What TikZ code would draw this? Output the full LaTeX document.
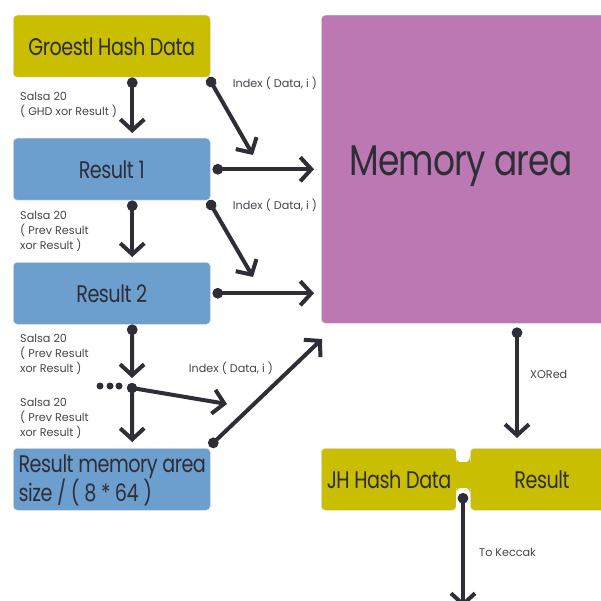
\documentclass[tikz,border=0pt]{standalone}
\usepackage{fontspec}
\setmainfont{Poppins}[FakeStretch=0.8, LetterSpace=-2]
\newfontfamily\lblfont{Poppins}
\usetikzlibrary{arrows.meta,calc}
\definecolor{ylw}{RGB}{201,190,0}
\definecolor{blu}{RGB}{108,158,206}
\definecolor{pur}{RGB}{188,120,178}
\definecolor{ink}{RGB}{46,46,56}
\definecolor{lbl}{RGB}{70,70,78}
\begin{document}
\begin{tikzpicture}[x=1pt,y=-1pt,
  box/.style={rounded corners=4pt, draw=black!12, line width=0.5pt,
    inner sep=0pt, anchor=north west, text=ink},
  stdbox/.style={box, minimum width=197pt, minimum height=62pt},
  bigtxt/.style={font=\fontsize{24}{26}\selectfont},
  small/.style={font=\lblfont\fontsize{11.2}{15}\selectfont, text=lbl, inner sep=0pt, align=left},
  flow/.style={draw=ink, line width=4pt,
    {Circle[length=10.5pt,width=10.5pt]}-{Straight Barb[length=11pt,width=24pt]}},
  tipflow/.style={draw=ink, line width=4pt, -{Straight Barb[length=11pt,width=24pt]}},
  dot/.style={circle, fill=ink, inner sep=0pt, minimum size=#1}]
\useasboundingbox (0,0) rectangle (601,601);
\fill[white] (0,0) rectangle (601,601);

% left column of boxes
\node[stdbox, fill=ylw] (g) at (13,15) {};
\node[bigtxt, text=ink] at (g.center) {Groestl Hash Data};
\node[stdbox, fill=blu] (r1) at (13,138) {};
\node[bigtxt, text=ink] at (r1.center) {Result 1};
\node[stdbox, fill=blu] (r2) at (13,262) {};
\node[bigtxt, text=ink] at (r2.center) {Result 2};
\node[stdbox, fill=blu] (rm) at (13,448) {};
\node[bigtxt, text=ink, align=left, anchor=west, font=\fontsize{24}{24}\selectfont] at ([xshift=2pt,yshift=-1pt]rm.west) {Result memory area\\size / ( 8 * 64 )};

% memory area
\node[box, fill=pur, minimum width=291pt, minimum height=308pt] (mem) at (321,15) {};
\node[text=ink, font=\fontsize{43}{46}\selectfont] (memtxt) at (461,166) {Memory area};

% JH / Result joined block
\fill[ylw] (452,456) rectangle (474,494);
\node[box, fill=ylw, minimum width=135pt, minimum height=62pt] (jl) at (321,448) {};
\node[box, fill=ylw, minimum width=142pt, minimum height=62pt] (jr) at (470,448) {};
\fill[white, rounded corners=7pt] (456,440) rectangle (470,463);
\fill[white, rounded corners=7pt] (456,487) rectangle (470,520);
\fill[ylw] (455,462) rectangle (471,488);
\node[bigtxt, text=ink] at (389,480) {JH Hash Data};
\node[bigtxt, text=ink] at (542,480) {Result};

% free ends
\coordinate (i1) at (253,155);
\coordinate (i2) at (253,277);
\coordinate (i3) at (227,404);
\coordinate (i4) at (322,339);
\coordinate (kout) at (463,493);
\coordinate (kend) at (463,607);

% connectors
\draw[flow] ([xshift=20.5pt]g.south) -- ([xshift=20.5pt,yshift=5pt]r1.north);
\draw[flow] ([xshift=-2pt]g.south east) -- (i1);
\draw[flow, shorten >=7pt] ([xshift=2pt]r1.east) -- (r1.east -| mem.west);
\draw[flow] ([xshift=20.5pt]r1.south) -- ([xshift=20.5pt,yshift=5pt]r2.north);
\draw[flow] ([xshift=-2pt]r1.south east) -- (i2);
\draw[flow, shorten >=7pt] ([xshift=2pt]r2.east) -- (r2.east -| mem.west);
\node[dot=10.5pt] (d0) at (132,388) {};
\foreach \x/\n in {100/a,110/b,119/c} \node[dot=7pt] (dd\n) at (\x,386) {};
\draw[flow] ([xshift=20.5pt]r2.south) -- ([yshift=10pt]d0.center);
\draw[tipflow] (d0.center) -- ([xshift=20.5pt,yshift=6pt]rm.north);
\draw[tipflow] (d0.center) -- (i3);
\draw[flow] ([xshift=-1pt,yshift=1.5pt]rm.north east) -- (i4);
\draw[flow] ([xshift=196pt,yshift=-4pt]mem.south west) -- ([xshift=47pt,yshift=10pt]jr.north west);
\draw[flow] (kout) -- (kend);

% labels
\node[small, anchor=north west] at (20,92.5) {Salsa 20\\( GHD xor Result )};
\node[small] at (275,83) {Index ( Data, i )};
\node[small, anchor=north west] at (20,211) {Salsa 20\\( Prev Result\\xor Result )};
\node[small] at (275,205) {Index ( Data, i )};
\node[small, anchor=north west] at (20,334) {Salsa 20\\( Prev Result\\xor Result )};
\node[small] at (231,368) {Index ( Data, i )};
\node[small, anchor=north west] at (20,398) {Salsa 20\\( Prev Result\\xor Result )};
\node[small, anchor=west] at (530,374) {XORed};
\node[small, anchor=west] at (479,552) {To Keccak};
\end{tikzpicture}
\end{document}
